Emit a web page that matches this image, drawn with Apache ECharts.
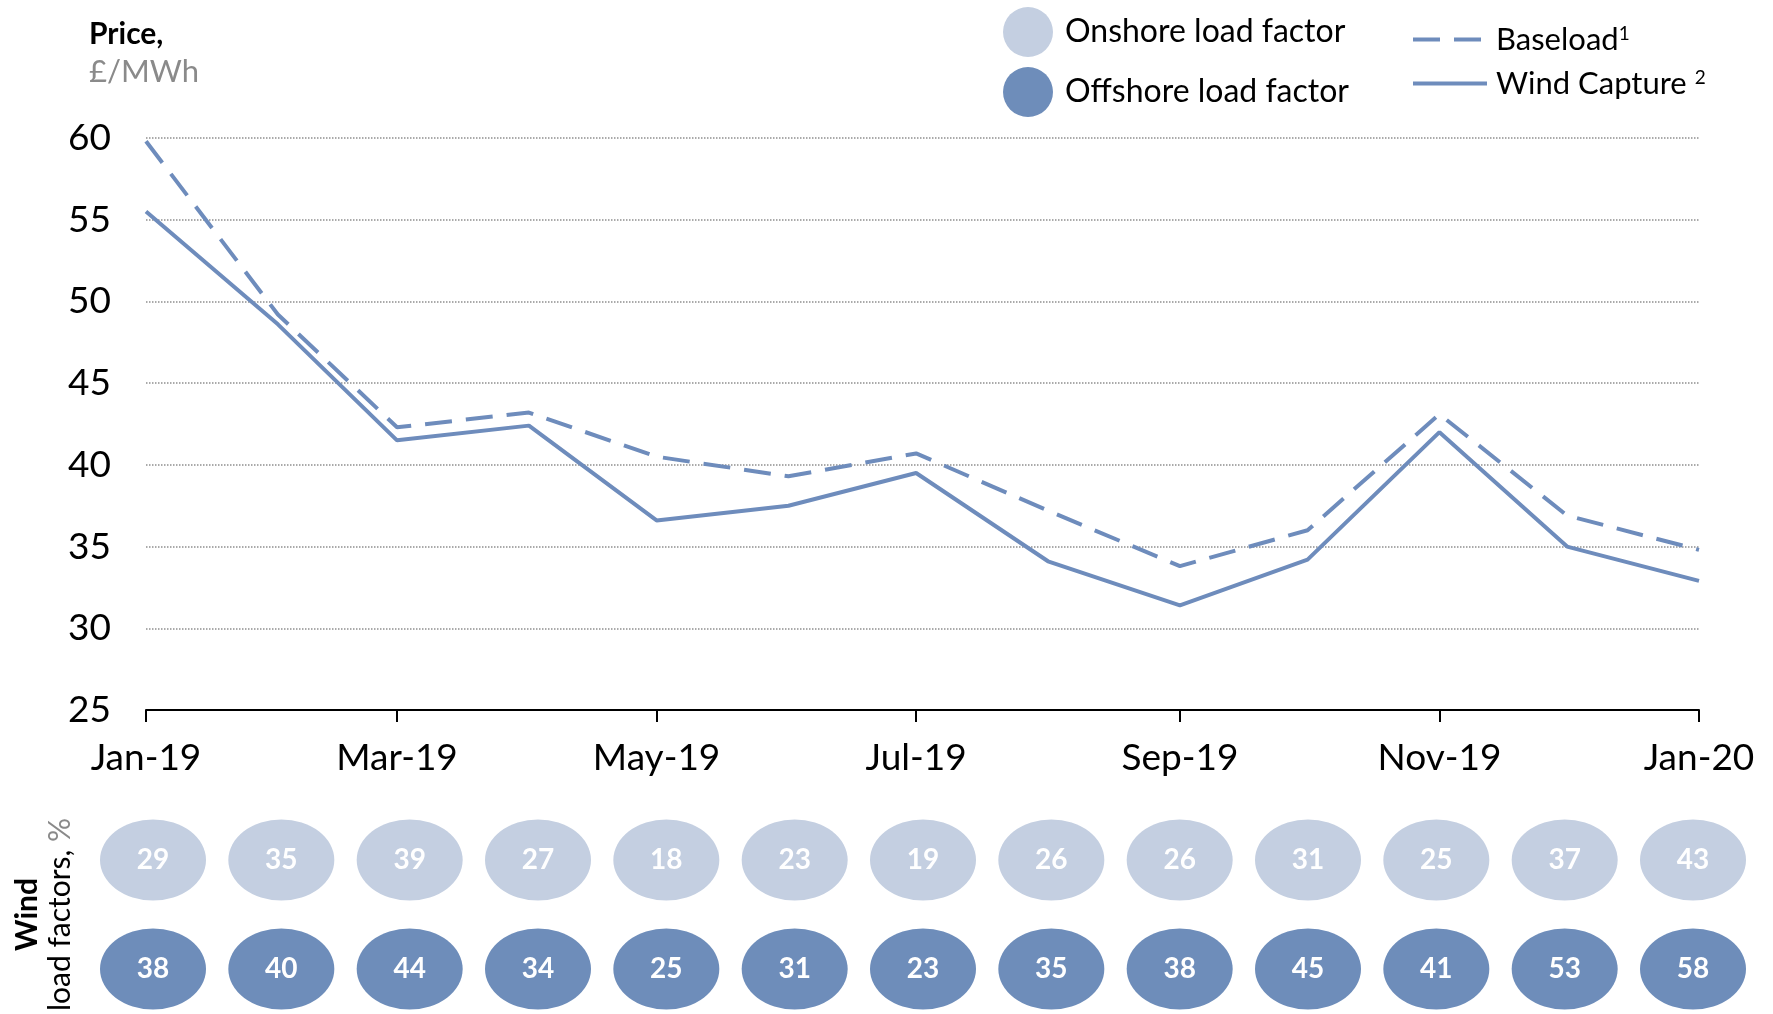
<!DOCTYPE html>
<html>
<head>
<meta charset="utf-8">
<script src="https://cdn.jsdelivr.net/npm/echarts@6/dist/echarts.min.js"></script>
<style>
  html, body { margin: 0; padding: 0; background: #fff; }
  #chart { width: 1773px; height: 1014px; }
</style>
</head>
<body>
<div id="chart"></div>
<script>
// monthly points
const months = ['2019-01', '2019-02', '2019-03', '2019-04', '2019-05', '2019-06', '2019-07',
  '2019-08', '2019-09', '2019-10', '2019-11', '2019-12', '2020-01']
const baseload = [59.8, 49.2, 42.3, 43.2, 40.5, 39.3, 40.7, 37.2, 33.8, 36.0, 43.1, 36.9, 34.8]
const windCapture = [55.5, 48.6, 41.5, 42.4, 36.6, 37.5, 39.5, 34.1, 31.4, 34.2, 42.0, 35.0, 32.9]
const onshore = [29, 35, 39, 27, 18, 23, 19, 26, 26, 31, 25, 37, 43]
const offshore = [38, 40, 44, 34, 25, 31, 23, 35, 38, 45, 41, 53, 58]
// x ticks
const tickMonths = ['2019-01', '2019-03', '2019-05', '2019-07', '2019-09', '2019-11', '2020-01']
const tickLabels = ['Jan-19', 'Mar-19', 'May-19', 'Jul-19', 'Sep-19', 'Nov-19', 'Jan-20']

const FONT = 'Lato'
const lineColor = '#6e8cbc'

function toTime (m) {
  let p = m.split('-')
  return Date.UTC(+p[0], +p[1] - 1, 1)
}
const tickTimes = tickMonths.map(toTime)

let mycharts = echarts.init(document.getElementById('chart'))
mycharts.setOption({
  animation: false,
  textStyle: { fontFamily: FONT },
  title: {
    left: 89,
    top: 15,
    padding: 0,
    text: '{b|Price,}\n{g|£/MWh}',
    textStyle: {
      rich: {
        b: { fontFamily: FONT, fontSize: 30, fontWeight: 'bold', color: '#000', lineHeight: 38 },
        g: { fontFamily: FONT, fontSize: 31, fontWeight: 'normal', color: '#8a8a8a', lineHeight: 38 }
      }
    }
  },
  legend: [
    {
      orient: 'vertical',
      left: 1003,
      top: 7,
      padding: 0,
      itemWidth: 50,
      itemHeight: 50,
      itemGap: 10,
      data: ['Onshore load factor', 'Offshore load factor'],
      textStyle: { fontFamily: FONT, fontSize: 32, color: '#000', padding: [0, 0, 0, 7] }
    },
    {
      orient: 'vertical',
      left: 1411,
      top: 24,
      padding: 0,
      itemWidth: 74,
      itemHeight: 14,
      itemGap: 13,
      data: ['Baseload', 'Wind Capture'],
      itemStyle: { opacity: 0 },
      lineStyle: { width: 4 },
      formatter: function (name) {
        return name === 'Baseload' ? 'Baseload{s|1}' : 'Wind Capture {s|2}'
      },
      textStyle: {
        fontFamily: FONT,
        fontSize: 31,
        color: '#000',
        padding: [0, 0, 0, 4],
        rich: {
          s: { fontFamily: FONT, fontSize: 19, color: '#000', verticalAlign: 'top', padding: [0, 0, 12, 0] }
        }
      }
    }
  ],
  grid: [
    { left: 146, right: 74, top: 138, bottom: 304, outerBoundsMode: 'none' },
    { left: 153, right: 80, top: 860, bottom: 45, outerBoundsMode: 'none' }
  ],
  xAxis: [
    {
      gridIndex: 0,
      type: 'value',
      min: tickTimes[0],
      max: tickTimes[tickTimes.length - 1],
      splitLine: { show: false },
      axisLine: { show: true, lineStyle: { color: '#000', width: 2 } },
      axisTick: { show: true, length: 12, customValues: tickTimes, lineStyle: { color: '#000', width: 2 } },
      axisLabel: {
        customValues: tickTimes,
        margin: 30,
        fontFamily: FONT,
        fontSize: 37,
        color: '#000',
        formatter: function (v) {
          let i = tickTimes.indexOf(v)
          return i >= 0 ? tickLabels[i] : ''
        }
      }
    },
    {
      gridIndex: 1,
      type: 'category',
      boundaryGap: false,
      data: months,
      show: false
    }
  ],
  yAxis: [
    {
      gridIndex: 0,
      type: 'value',
      min: 25,
      max: 60,
      interval: 5,
      axisLine: { show: false },
      axisTick: { show: false },
      axisLabel: { margin: 35, fontFamily: FONT, fontSize: 37, color: '#000' },
      splitLine: { lineStyle: { type: 'dotted', color: '#8f8f8f', width: 1.5 } }
    },
    {
      gridIndex: 1,
      type: 'category',
      boundaryGap: false,
      data: ['Offshore', 'Onshore'],
      axisLine: { show: false },
      axisTick: { show: false },
      axisLabel: { show: false },
      splitLine: { show: false },
      name: '{b|Wind}\n{n|load factors, }{g|%}',
      nameLocation: 'middle',
      nameRotate: 90,
      nameGap: 76,
      nameTextStyle: {
        rich: {
          b: { fontFamily: FONT, fontSize: 30, fontWeight: 'bold', color: '#000', lineHeight: 33 },
          n: { fontFamily: FONT, fontSize: 30, color: '#000', lineHeight: 33 },
          g: { fontFamily: FONT, fontSize: 30, color: '#8a8a8a', lineHeight: 33 }
        }
      }
    }
  ],
  series: [
    {
      name: 'Baseload',
      type: 'line',
      xAxisIndex: 0,
      yAxisIndex: 0,
      symbol: 'none',
      data: months.map((m, i) => [toTime(m), baseload[i]]),
      lineStyle: { color: lineColor, width: 4, type: [27, 14] },
      itemStyle: { color: lineColor }
    },
    {
      name: 'Wind Capture',
      type: 'line',
      xAxisIndex: 0,
      yAxisIndex: 0,
      symbol: 'none',
      data: months.map((m, i) => [toTime(m), windCapture[i]]),
      lineStyle: { color: lineColor, width: 4 },
      itemStyle: { color: lineColor }
    },
    {
      name: 'Onshore load factor',
      type: 'scatter',
      xAxisIndex: 1,
      yAxisIndex: 1,
      symbol: 'circle',
      symbolSize: [106, 81],
      itemStyle: { color: '#c4cfe1', opacity: 1 },
      label: {
        show: true,
        position: 'inside',
        fontFamily: FONT,
        fontSize: 28,
        fontWeight: 'bold',
        color: '#fff',
        formatter: p => p.value[2]
      },
      data: onshore.map((v, i) => [i, 'Onshore', v])
    },
    {
      name: 'Offshore load factor',
      type: 'scatter',
      xAxisIndex: 1,
      yAxisIndex: 1,
      symbol: 'circle',
      symbolSize: [106, 81],
      itemStyle: { color: '#6e8dba', opacity: 1 },
      label: {
        show: true,
        position: 'inside',
        fontFamily: FONT,
        fontSize: 28,
        fontWeight: 'bold',
        color: '#fff',
        formatter: p => p.value[2]
      },
      data: offshore.map((v, i) => [i, 'Offshore', v])
    }
  ]
})
</script>
</body>
</html>
